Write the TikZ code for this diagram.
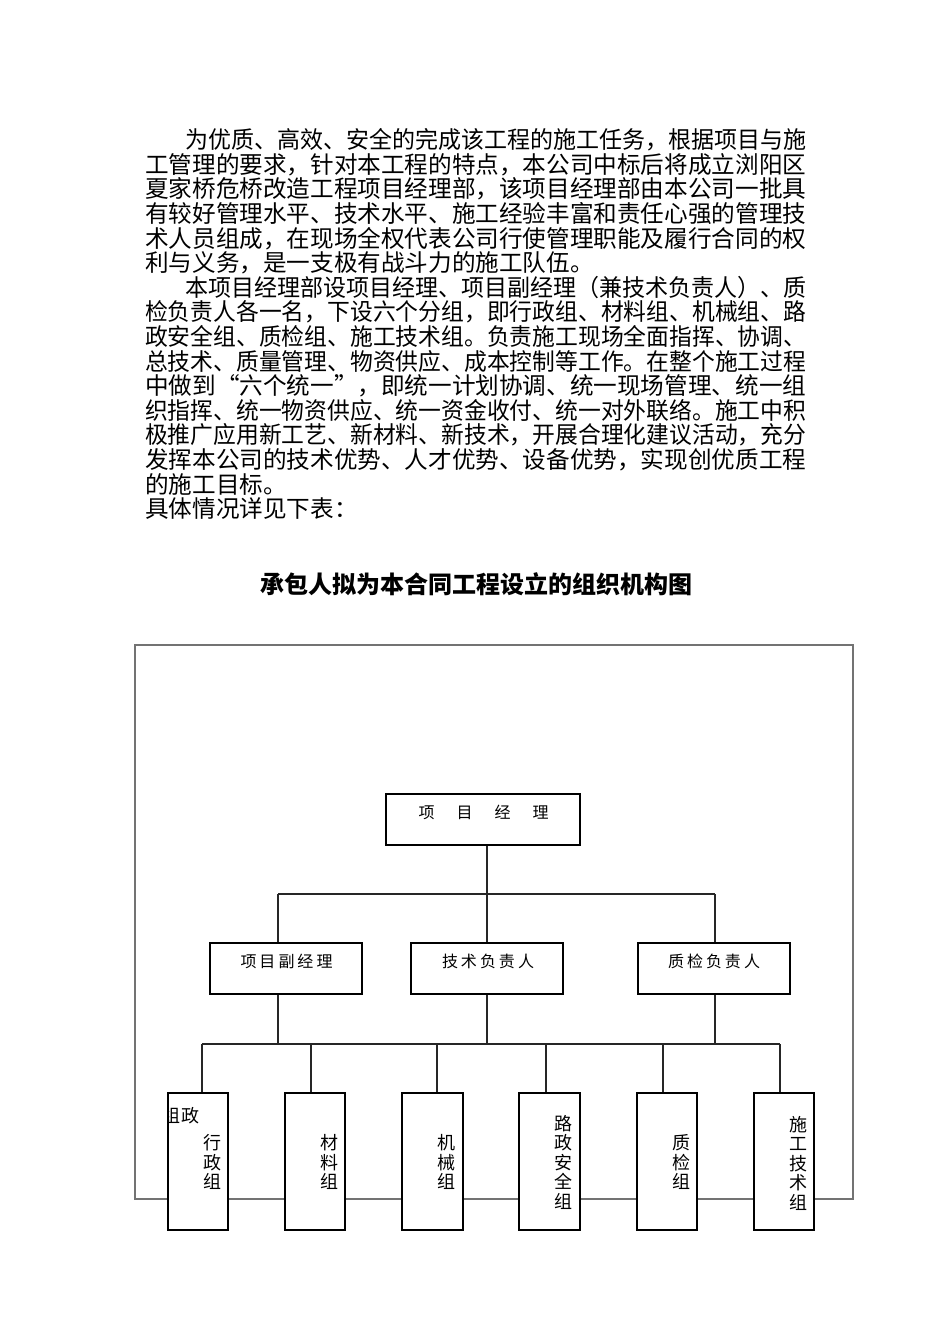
\documentclass[tikz,border=0pt]{standalone}
\usepackage{fontspec}
\setmainfont{Noto Sans CJK SC}
\usepackage{graphicx}
\newcommand{\fitline}[2]{\resizebox{#1pt}{\height}{#2}}

\begin{document}
\begin{tikzpicture}[x=1pt,y=-1pt,
  para/.style={anchor=west, inner sep=0pt, font=\fontsize{23.6}{24}\selectfont},
  ttl/.style={inner sep=0pt, font=\fontsize{24}{26}\selectfont\bfseries},
  box/.style={draw=black, line width=1.2pt, fill=white, inner sep=0pt},
  lbl/.style={inner sep=0pt, font=\fontsize{16}{18}\selectfont},
  vlbl/.style={inner sep=0pt, align=center, font=\fontsize{18}{19.5}\selectfont},
  link/.style={draw=black!85, line width=1.2pt},
  frame/.style={draw=black!55, line width=1.1pt}]
\useasboundingbox (0,0) rectangle (950,1344);
\fill[white] (0,0) rectangle (950,1344);

% paragraph text
\node[para] (l1) at (185,140) {\fitline{621}{为优质、高效、安全的完成该工程的施工任务，根据项目与施}};
\node[para] (l2) at (145,164.6) {\fitline{661}{工管理的要求，针对本工程的特点，本公司中标后将成立浏阳区}};
\node[para] (l3) at (145,189.2) {\fitline{661}{夏家桥危桥改造工程项目经理部，该项目经理部由本公司一批具}};
\node[para] (l4) at (145,213.8) {\fitline{661}{有较好管理水平、技术水平、施工经验丰富和责任心强的管理技}};
\node[para] (l5) at (145,238.4) {\fitline{661}{术人员组成，在现场全权代表公司行使管理职能及履行合同的权}};
\node[para] (l6) at (145,263.0) {利与义务，是一支极有战斗力的施工队伍。};
\node[para] (l7) at (185,287.6) {\fitline{621}{本项目经理部设项目经理、项目副经理（兼技术负责人）、质}};
\node[para] (l8) at (145,312.2) {\fitline{661}{检负责人各一名，下设六个分组，即行政组、材料组、机械组、路}};
\node[para] (l9) at (145,336.8) {\fitline{661}{政安全组、质检组、施工技术组。负责施工现场全面指挥、协调、}};
\node[para] (l10) at (145,361.4) {\fitline{661}{总技术、质量管理、物资供应、成本控制等工作。在整个施工过程}};
\node[para] (l11) at (145,386.0) {\fitline{661}{中做到“六个统一”，即统一计划协调、统一现场管理、统一组}};
\node[para] (l12) at (145,410.6) {\fitline{661}{织指挥、统一物资供应、统一资金收付、统一对外联络。施工中积}};
\node[para] (l13) at (145,435.2) {\fitline{661}{极推广应用新工艺、新材料、新技术，开展合理化建议活动，充分}};
\node[para] (l14) at (145,459.8) {\fitline{661}{发挥本公司的技术优势、人才优势、设备优势，实现创优质工程}};
\node[para] (l15) at (145,484.4) {的施工目标。};
\node[para] (l16) at (145,509.0) {具体情况详见下表：};

% title
\node[ttl] (title) at (476,584) {承包人拟为本合同工程设立的组织机构图};

% outer frame
\draw[frame] (135,645) rectangle (853,1199);

% boxes
\node[box, minimum width=194, minimum height=51] (pm) at (483,819.5) {};
\node[box, minimum width=152, minimum height=51] (dep) at (286,968.5) {};
\node[box, minimum width=152, minimum height=51] (tech) at (487,968.5) {};
\node[box, minimum width=152, minimum height=51] (qc) at (714,968.5) {};

\node[box, minimum width=60, minimum height=137] (g1) at (198,1161.5) {};
\node[box, minimum width=60, minimum height=137] (g2) at (315,1161.5) {};
\node[box, minimum width=61, minimum height=137] (g3) at (432.5,1161.5) {};
\node[box, minimum width=61, minimum height=137] (g4) at (549.5,1161.5) {};
\node[box, minimum width=60, minimum height=137] (g5) at (667,1161.5) {};
\node[box, minimum width=60, minimum height=137] (g6) at (784,1161.5) {};

% labels
\node[lbl] (pmt) at (483.5,812) {项\hspace{22pt}目\hspace{22pt}经\hspace{22pt}理};
\node[lbl] (dept) at (286.5,961) {项\hspace{3pt}目\hspace{3pt}副\hspace{3pt}经\hspace{3pt}理};
\node[lbl] (techt) at (488,961) {技\hspace{3pt}术\hspace{3pt}负\hspace{3pt}责\hspace{3pt}人};
\node[lbl] (qct) at (714,961) {质\hspace{3pt}检\hspace{3pt}负\hspace{3pt}责\hspace{3pt}人};

\begin{scope}
  \clip (168.6,1093.6) rectangle (227.4,1229.4);
  \node[inner sep=0pt, font=\fontsize{18}{19.5}\selectfont] (g1x) at (181,1116) {组\hspace{1pt}政};
\end{scope}
\node[vlbl] (g1t) at (212,1162) {行\\政\\组};
\node[vlbl] (g2t) at (329,1162) {材\\料\\组};
\node[vlbl] (g3t) at (446,1162) {机\\械\\组};
\node[vlbl] (g4t) at (563,1162) {路\\政\\安\\全\\组};
\node[vlbl] (g5t) at (681,1162) {质\\检\\组};
\node[vlbl] (g6t) at (798,1163) {施\\工\\技\\术\\组};

% connectors
\coordinate (b1) at (487,894);
\coordinate (b1l) at (278,894);
\coordinate (b1r) at (715,894);
\coordinate (b2l) at (202,1044);
\coordinate (b2r) at (780,1044);
\coordinate (t2) at (311,1044);
\coordinate (t3) at (437,1044);
\coordinate (t4) at (546,1044);
\coordinate (t5) at (663,1044);

\draw[link] (b1 |- pm.south) -- (b1);
\draw[link] (b1l) -- (b1r);
\draw[link] (b1l) -- (b1l |- dep.north);
\draw[link] (b1) -- (b1 |- tech.north);
\draw[link] (b1r) -- (b1r |- qc.north);

\draw[link] (b1l |- dep.south) -- (b1l |- b2l);
\draw[link] (b1 |- tech.south) -- (b1 |- b2l);
\draw[link] (b1r |- qc.south) -- (b1r |- b2l);
\draw[link] (b2l) -- (b2r);

\draw[link] (b2l) -- (b2l |- g1.north);
\draw[link] (t2) -- (t2 |- g2.north);
\draw[link] (t3) -- (t3 |- g3.north);
\draw[link] (t4) -- (t4 |- g4.north);
\draw[link] (t5) -- (t5 |- g5.north);
\draw[link] (b2r) -- (b2r |- g6.north);
\end{tikzpicture}
\end{document}
